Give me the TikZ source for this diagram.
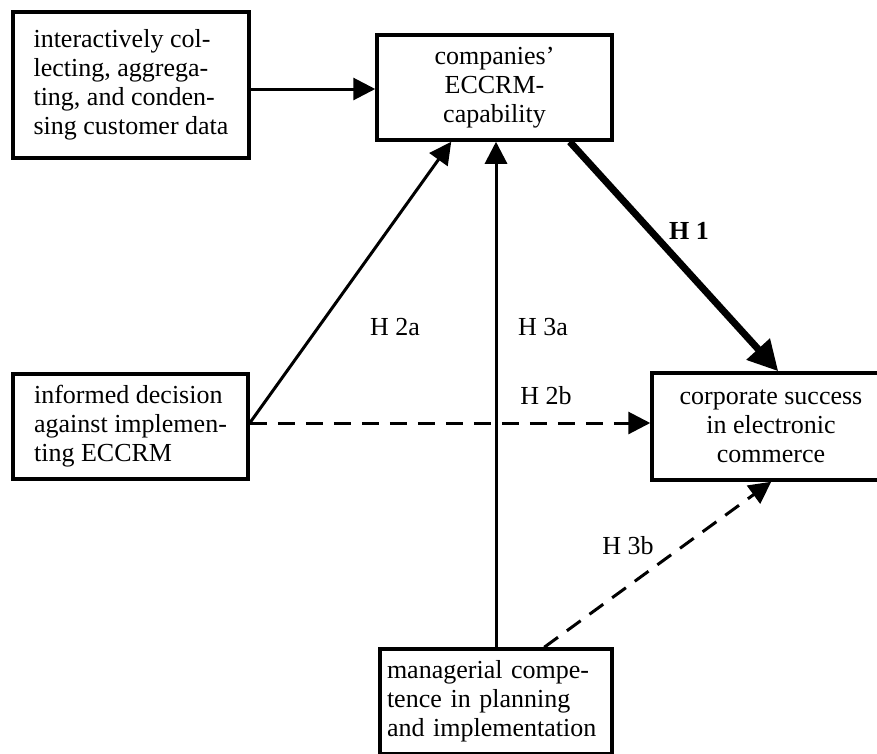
\documentclass[tikz,border=0pt]{standalone}
\usepackage{fontspec}
\setmainfont{Liberation Serif}
\usetikzlibrary{arrows.meta,calc}
\begin{document}
\begin{tikzpicture}[x=1pt,y=-1pt,
  box/.style={draw,line width=3.5pt,rectangle,inner sep=0pt,font=\fontsize{26}{29}\selectfont},
  lbox/.style={box,align=left},
  cbox/.style={box,align=center},
  arr/.style={line width=3pt,-{Triangle[length=22pt,width=22pt]}},
  bigarr/.style={line width=7pt,-{Triangle[length=30pt,width=30pt]}},
  darr/.style={arr,dash pattern=on 17pt off 11pt},
  hlab/.style={font=\fontsize{26}{29}\selectfont,inner sep=0pt}]
\useasboundingbox (0,0) rectangle (877,753);
\begin{scope}
\clip (0,0) rectangle (877,753);
\node[lbox,minimum width=236pt,minimum height=146pt] (collect) at (131,85)
  {interactively col-\\lecting, aggrega-\\ting, and conden-\\sing customer data};
\node[cbox,minimum width=235pt,minimum height=105pt] (cap) at (494.5,87.5)
  {companies'\\ECCRM-\\capability};
\node[lbox,minimum width=235pt,minimum height=105pt] (inform) at (130.5,426.5)
  {informed decision\\against implemen-\\ting ECCRM};
\node[cbox,minimum width=238pt,minimum height=107pt] (succ) at (771,426.5)
  {corporate success\\in electronic\\commerce};
\node[lbox,minimum width=232pt,minimum height=105pt,text width=218pt] (mgr) at (496,701.5)
  {managerial compe-\\tence in planning\\and implementation};
\end{scope}
\coordinate (s0) at ([yshift=-4pt]collect.east);
\coordinate (s2) at ([yshift=3.5pt]inform.east);
\coordinate (t2a) at ($(cap.south west)+(76,0)$);
\coordinate (s1) at ($(cap.south east)+(-44,0)$);
\coordinate (t1) at ($(succ.north west)+(128,0)$);
\coordinate (s3b) at ($(mgr.north west)+(166,0)$);
\coordinate (t3b) at ($(succ.south west)+(121,0)$);
\draw[arr] (s0) -- (s0 -| cap.west);
\draw[arr] (s2) -- (t2a);
\draw[arr] (mgr.north) -- (mgr.north |- cap.south);
\draw[bigarr] (s1) -- (t1);
\draw[darr] (s2) -- (s2 -| succ.west);
\draw[darr] (s3b) -- (t3b);
\node[hlab] (h2a) at (395,327) {H 2a};
\node[hlab] (h3a) at (543,327) {H 3a};
\node[hlab] (h1) at (689,231) {\bfseries H 1};
\node[hlab] (h2b) at (546,396) {H 2b};
\node[hlab] (h3b) at (628,546) {H 3b};
\end{tikzpicture}
\end{document}
